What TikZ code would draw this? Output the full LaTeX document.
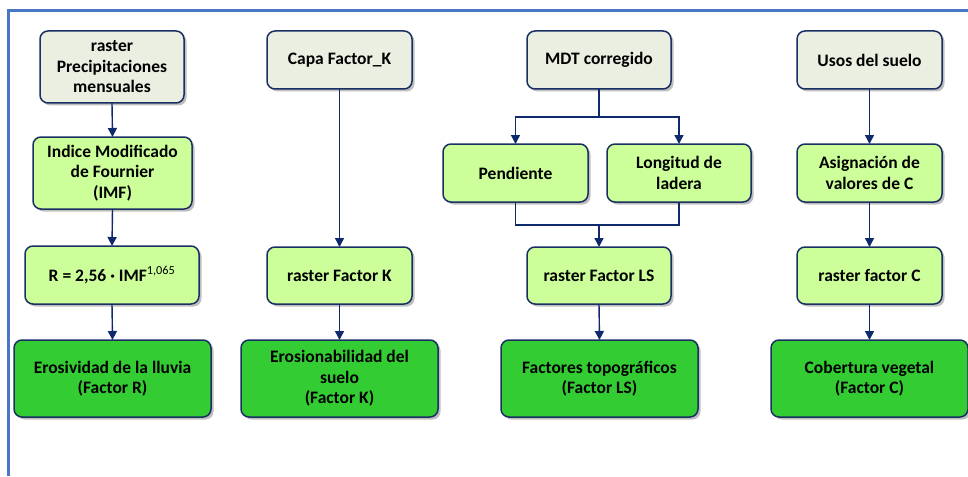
\documentclass[tikz,border=0pt]{standalone}
\usepackage{fontspec}
\setmainfont{Carlito}
\usetikzlibrary{arrows.meta,shadows}
\definecolor{frameblue}{HTML}{4A76C8}
\definecolor{navy}{HTML}{1A2F63}
\definecolor{arrownavy}{HTML}{0E2A6C}
\definecolor{topfill}{HTML}{EBEFE1}
\definecolor{midfill}{HTML}{CCFF99}
\definecolor{botfill}{HTML}{33CC33}
\tikzset{
  box/.style={draw=navy, line width=1.5pt, rounded corners=8pt, inner sep=0pt, outer sep=0pt,
    align=center, font=\bfseries\fontsize{17.5}{20.5}\selectfont, text=black,
    drop shadow={shadow xshift=2.5pt, shadow yshift=-2.5pt, opacity=0.25, fill=black}},
  topbox/.style={box, fill=topfill},
  midbox/.style={box, fill=midfill},
  botbox/.style={box, fill=botfill},
  sz/.style 2 args={minimum width=#1pt, minimum height=#2pt},
  arr/.style={draw=arrownavy, line width=1.4pt, -{Triangle[length=9pt,width=9pt]}},
  ln/.style={draw=arrownavy, line width=1.4pt},
}
\begin{document}
\begin{tikzpicture}[x=1pt,y=-1pt]
\useasboundingbox (0,0) rectangle (968,476);
\fill[white] (0,0) rectangle (968,476);
\draw[frameblue, line width=3pt] (8,476) -- (8,11) -- (968,11);

% column 1
\node[topbox, sz={144}{72}] (a1) at (112,67) {raster\\Precipitaciones\\mensuales};
\node[midbox, sz={159}{72}] (a2) at (112.5,173) {Indice Modificado\\de Fournier\\(IMF)};
\node[midbox, sz={174}{58}] (a3) at (112,275) {R = 2,56 · IMF\textsuperscript{\mdseries 1,065}};
\node[botbox, sz={197}{77}] (a4) at (112.5,378.5) {Erosividad de la lluvia\\(Factor R)};

% column 2
\node[topbox, sz={145}{58}] (b1) at (339.5,60) {Capa Factor\_K};
\node[midbox, sz={145}{57}] (b2) at (339.5,275.5) {raster Factor K};
\node[botbox, sz={197}{77}] (b3) at (339.5,378.5) {Erosionabilidad del\\suelo\\(Factor K)};

% column 3
\node[topbox, sz={144}{58}] (c1) at (599,60) {MDT corregido};
\node[midbox, sz={145}{58}] (c2) at (515.5,173) {Pendiente};
\node[midbox, sz={144}{58}] (c3) at (679,173) {Longitud de\\ladera};
\node[midbox, sz={144}{57}] (c4) at (599,275.5) {raster Factor LS};
\node[botbox, sz={197}{77}] (c5) at (599.5,378.5) {Factores topográficos\\(Factor LS)};

% column 4
\node[topbox, sz={145}{58}] (d1) at (869.5,60) {Usos del suelo};
\node[midbox, sz={145}{58}] (d2) at (869.5,173) {Asignación de\\valores de C};
\node[midbox, sz={145}{57}] (d3) at (869.5,275.5) {raster factor C};
\node[botbox, sz={197}{77}] (d4) at (869.5,378.5) {Cobertura vegetal\\(Factor C)};

% connectors
\draw[arr] (a1.south) -- (a2.north);
\draw[arr] (a2.south) -- (a3.north);
\draw[arr] (a3.south) -- (a4.north);

\draw[arr] (b1.south) -- (b2.north);
\draw[arr] (b2.south) -- (b3.north);

\coordinate (j1) at (599,117);
\coordinate (j2) at (599,225);
\draw[ln] (c1.south) -- (j1);
\draw[arr] (j1) -| (c2.north);
\draw[arr] (j1) -| (c3.north);
\draw[ln] (c2.south) |- (j2);
\draw[ln] (c3.south) |- (j2);
\draw[arr] (j2) -- (c4.north);
\draw[arr] (c4.south) -- (c5.north);

\draw[arr] (d1.south) -- (d2.north);
\draw[arr] (d2.south) -- (d3.north);
\draw[arr] (d3.south) -- (d4.north);
\end{tikzpicture}
\end{document}
